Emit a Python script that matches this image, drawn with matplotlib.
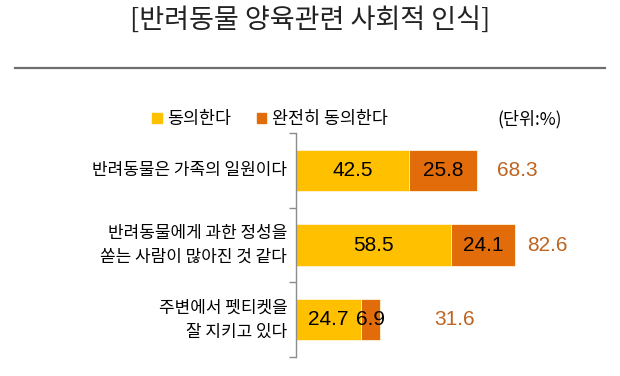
import matplotlib
matplotlib.use("Agg")
import matplotlib.pyplot as plt
from matplotlib.lines import Line2D

plt.rcParams['font.family'] = ['Noto Sans CJK KR', 'DejaVu Sans']

# data
categories = ['반려동물은 가족의 일원이다',
              '반려동물에게 과한 정성을\n쏟는 사람이 많아진 것 같다',
              '주변에서 펫티켓을\n잘 지키고 있다']
agree = [42.5, 58.5, 24.7]
strongly_agree = [25.8, 24.1, 6.9]
totals = [68.3, 82.6, 31.6]
series_names = ['동의한다', '완전히 동의한다']
title = '[반려동물 양육관련 사회적 인식]'
unit_note = '(단위:%)'

c_agree = '#FFC000'
c_strong = '#E36C0A'
c_total = '#BE6420'
total_pad = [7.5, 4.5, 20.5]

fig = plt.figure(figsize=(6.2, 3.76), dpi=100)
ax = fig.add_axes([296 / 620, 1 - 357 / 376, 300 / 620, 224 / 376])

y = list(range(len(categories)))
ax.barh(y, agree, height=0.55, color=c_agree, edgecolor='#FFF4D8', linewidth=0.6)
ax.barh(y, strongly_agree, left=agree, height=0.55, color=c_strong,
        edgecolor='#FFF4D8', linewidth=0.6)

num_font = ['Liberation Sans', 'DejaVu Sans']
for i in y:
    ax.text(agree[i] / 2, i, f'{agree[i]:.1f}', ha='center', va='center',
            fontsize=15, family=num_font)
    ax.text(agree[i] + strongly_agree[i] / 2, i, f'{strongly_agree[i]:.1f}',
            ha='center', va='center', fontsize=15, family=num_font)
    ax.text(totals[i] + total_pad[i], i, f'{totals[i]:.1f}', ha='left',
            va='center', fontsize=15, family=num_font, color=c_total)
    ax.text(-3.3, i, categories[i], ha='right', va='center', fontsize=12.2,
            linespacing=1.45)

ax.set_xlim(0, 300 / 2.65)
ax.set_ylim(2.5, -0.5)
ax.set_xticks([])
ax.set_yticks([-0.5, 0.5, 1.5, 2.5])
ax.set_yticklabels([])
ax.tick_params(axis='y', length=5, color='#8C8C8C', width=1)
for s in ['top', 'right', 'bottom']:
    ax.spines[s].set_visible(False)
ax.spines['left'].set_color('#8C8C8C')
ax.spines['left'].set_linewidth(1)

# title and rule
fig.text(0.5, 1 - 20 / 376, title, ha='center', va='center', fontsize=19.5,
         color='#222222', fontweight='light')
fig.add_artist(Line2D([15 / 620, 605 / 620], [1 - 68 / 376, 1 - 68 / 376],
                      color='#6E6E6E', linewidth=1.6))

# legend
handles = [plt.Rectangle((0, 0), 1, 1, color=c_agree),
           plt.Rectangle((0, 0), 1, 1, color=c_strong)]
fig.legend(handles, series_names, loc='center left',
           bbox_to_anchor=(152 / 620, 1 - 119 / 376), ncol=2, frameon=False,
           fontsize=12.5, handlelength=0.55, handleheight=0.55,
           handletextpad=0.3, columnspacing=1.5, borderpad=0, borderaxespad=0)
fig.text(497 / 620, 1 - 119 / 376, unit_note, ha='left', va='center',
         fontsize=12.5)

fig.savefig('out.png', dpi=100, facecolor='white')
